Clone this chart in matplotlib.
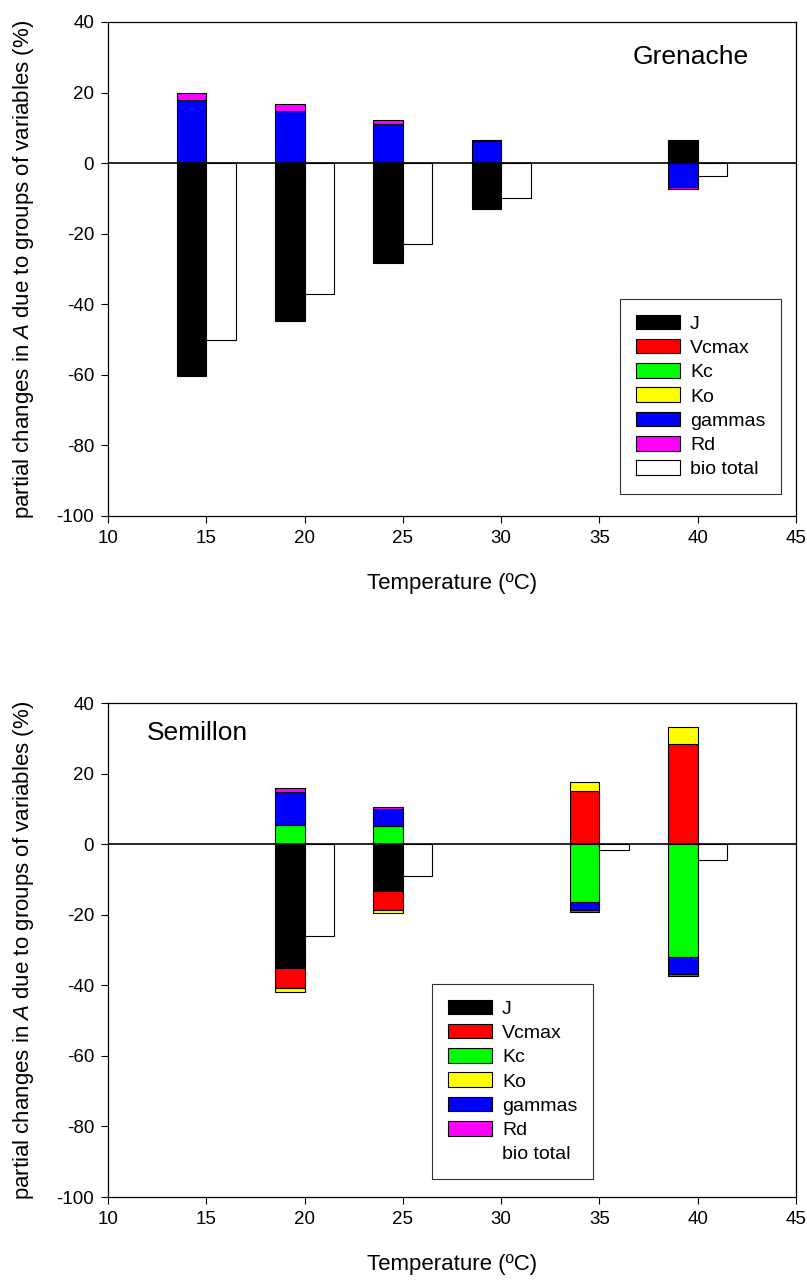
import numpy as np
import matplotlib
matplotlib.use("Agg")
import matplotlib.pyplot as plt
from matplotlib.patches import Patch

plt.rcParams['font.family'] = ['Liberation Sans', 'DejaVu Sans']
plt.rcParams['mathtext.fontset'] = 'custom'
plt.rcParams['mathtext.it'] = 'Liberation Sans:italic'
plt.rcParams['mathtext.rm'] = 'Liberation Sans'
plt.rcParams['axes.unicode_minus'] = False

# --- 数据 ---
components = ['J', 'Vcmax', 'Kc', 'Ko', 'gammas', 'Rd']
comp_colors = ['#000000', '#ff0000', '#00ff00', '#ffff00', '#0000ff', '#ff00ff']

# Grenache
temps_g = [15, 20, 25, 30, 40]
g_J = [-60.3, -44.6, -28.4, -12.9, 6.5]
g_Vcmax = [0, 0, 0, 0, 0]
g_Kc = [0, 0, 0, 0, 0]
g_Ko = [0, 0, 0, 0, 0]
g_gammas = [18.0, 14.8, 11.0, 6.2, -6.8]
g_Rd = [2.0, 1.9, 1.3, 0.5, -0.5]
g_bio = [-50.0, -37.0, -23.0, -9.9, -3.7]

# Semillon
temps_s = [20, 25, 35, 40]
s_J = [-35.2, -13.3, 0, 0]
s_Vcmax = [-5.5, -5.4, 15.0, 28.5]
s_Kc = [5.4, 5.1, -16.5, -32.1]
s_Ko = [-1.1, -0.8, 2.5, 4.7]
s_gammas = [9.4, 4.8, -2.2, -4.7]
s_Rd = [1.2, 0.6, -0.4, -0.6]
s_bio = [-26.0, -9.0, -1.7, -4.5]


def draw_panel(ax, temps, parts, bio, name, name_xy, name_ha, legend_box, bio_edge):
    temps = np.array(temps, dtype=float)
    pos_base = np.zeros(len(temps))
    neg_base = np.zeros(len(temps))
    # 正负值分别从零线往外堆叠
    for vals, col in zip(parts, comp_colors):
        vals = np.array(vals, dtype=float)
        for i, v in enumerate(vals):
            if v == 0:
                continue
            base = pos_base[i] if v > 0 else neg_base[i]
            ax.bar(temps[i] - 1.5, v, width=1.5, align='edge', bottom=base,
                   color=col, edgecolor='black', linewidth=0.8, zorder=2)
            if v > 0:
                pos_base[i] += v
            else:
                neg_base[i] += v
    ax.bar(temps, bio, width=1.5, align='edge', color='white',
           edgecolor='black', linewidth=0.8, zorder=2)
    ax.axhline(0, color='black', linewidth=1.2, zorder=3)

    ax.set_xlim(10, 45)
    ax.set_ylim(-100, 40)
    ax.set_xticks(np.arange(10, 46, 5))
    ax.set_yticks(np.arange(-100, 41, 20))
    ax.tick_params(direction='out', length=5, width=0.8, labelsize=13.5,
                   top=False, right=False, pad=5)
    for s in ax.spines.values():
        s.set_linewidth(0.9)
    ax.set_xlabel('Temperature (ºC)', fontsize=16, labelpad=19)
    ax.set_ylabel('partial changes in $\\it{A}$ due to groups of variables (%)',
                  fontsize=16, labelpad=15)
    ax.text(name_xy[0], name_xy[1], name, fontsize=19, ha=name_ha, va='center')

    handles = [Patch(facecolor=c, edgecolor='black', linewidth=0.8) for c in comp_colors]
    handles.append(Patch(facecolor='white', edgecolor='black' if bio_edge else 'white',
                         linewidth=0.8))
    leg = ax.legend(handles, components + ['bio total'], loc='lower left',
                    bbox_to_anchor=legend_box, frameon=True, fancybox=False,
                    edgecolor='black', fontsize=14, handlelength=2.3,
                    handleheight=0.78, labelspacing=0.32, handletextpad=0.5,
                    borderpad=0.8, borderaxespad=0)
    leg.get_frame().set_linewidth(0.8)


fig = plt.figure(figsize=(8.07, 12.81), dpi=100)
ax1 = fig.add_axes([108 / 807, 1 - 516 / 1281, 688 / 807, 494 / 1281])
ax2 = fig.add_axes([108 / 807, 1 - 1197 / 1281, 688 / 807, 494 / 1281])

draw_panel(ax1, temps_g, [g_J, g_Vcmax, g_Kc, g_Ko, g_gammas, g_Rd], g_bio,
           'Grenache', (39.65, 30.0), 'center',
           ((620 - 108) / 688, (516 - 494) / 494), True)
draw_panel(ax2, temps_s, [s_J, s_Vcmax, s_Kc, s_Ko, s_gammas, s_Rd], s_bio,
           'Semillon', (12.0, 31.4), 'left',
           ((432 - 108) / 688, (1197 - 1179) / 494), False)

fig.savefig('out.png', dpi=100)
